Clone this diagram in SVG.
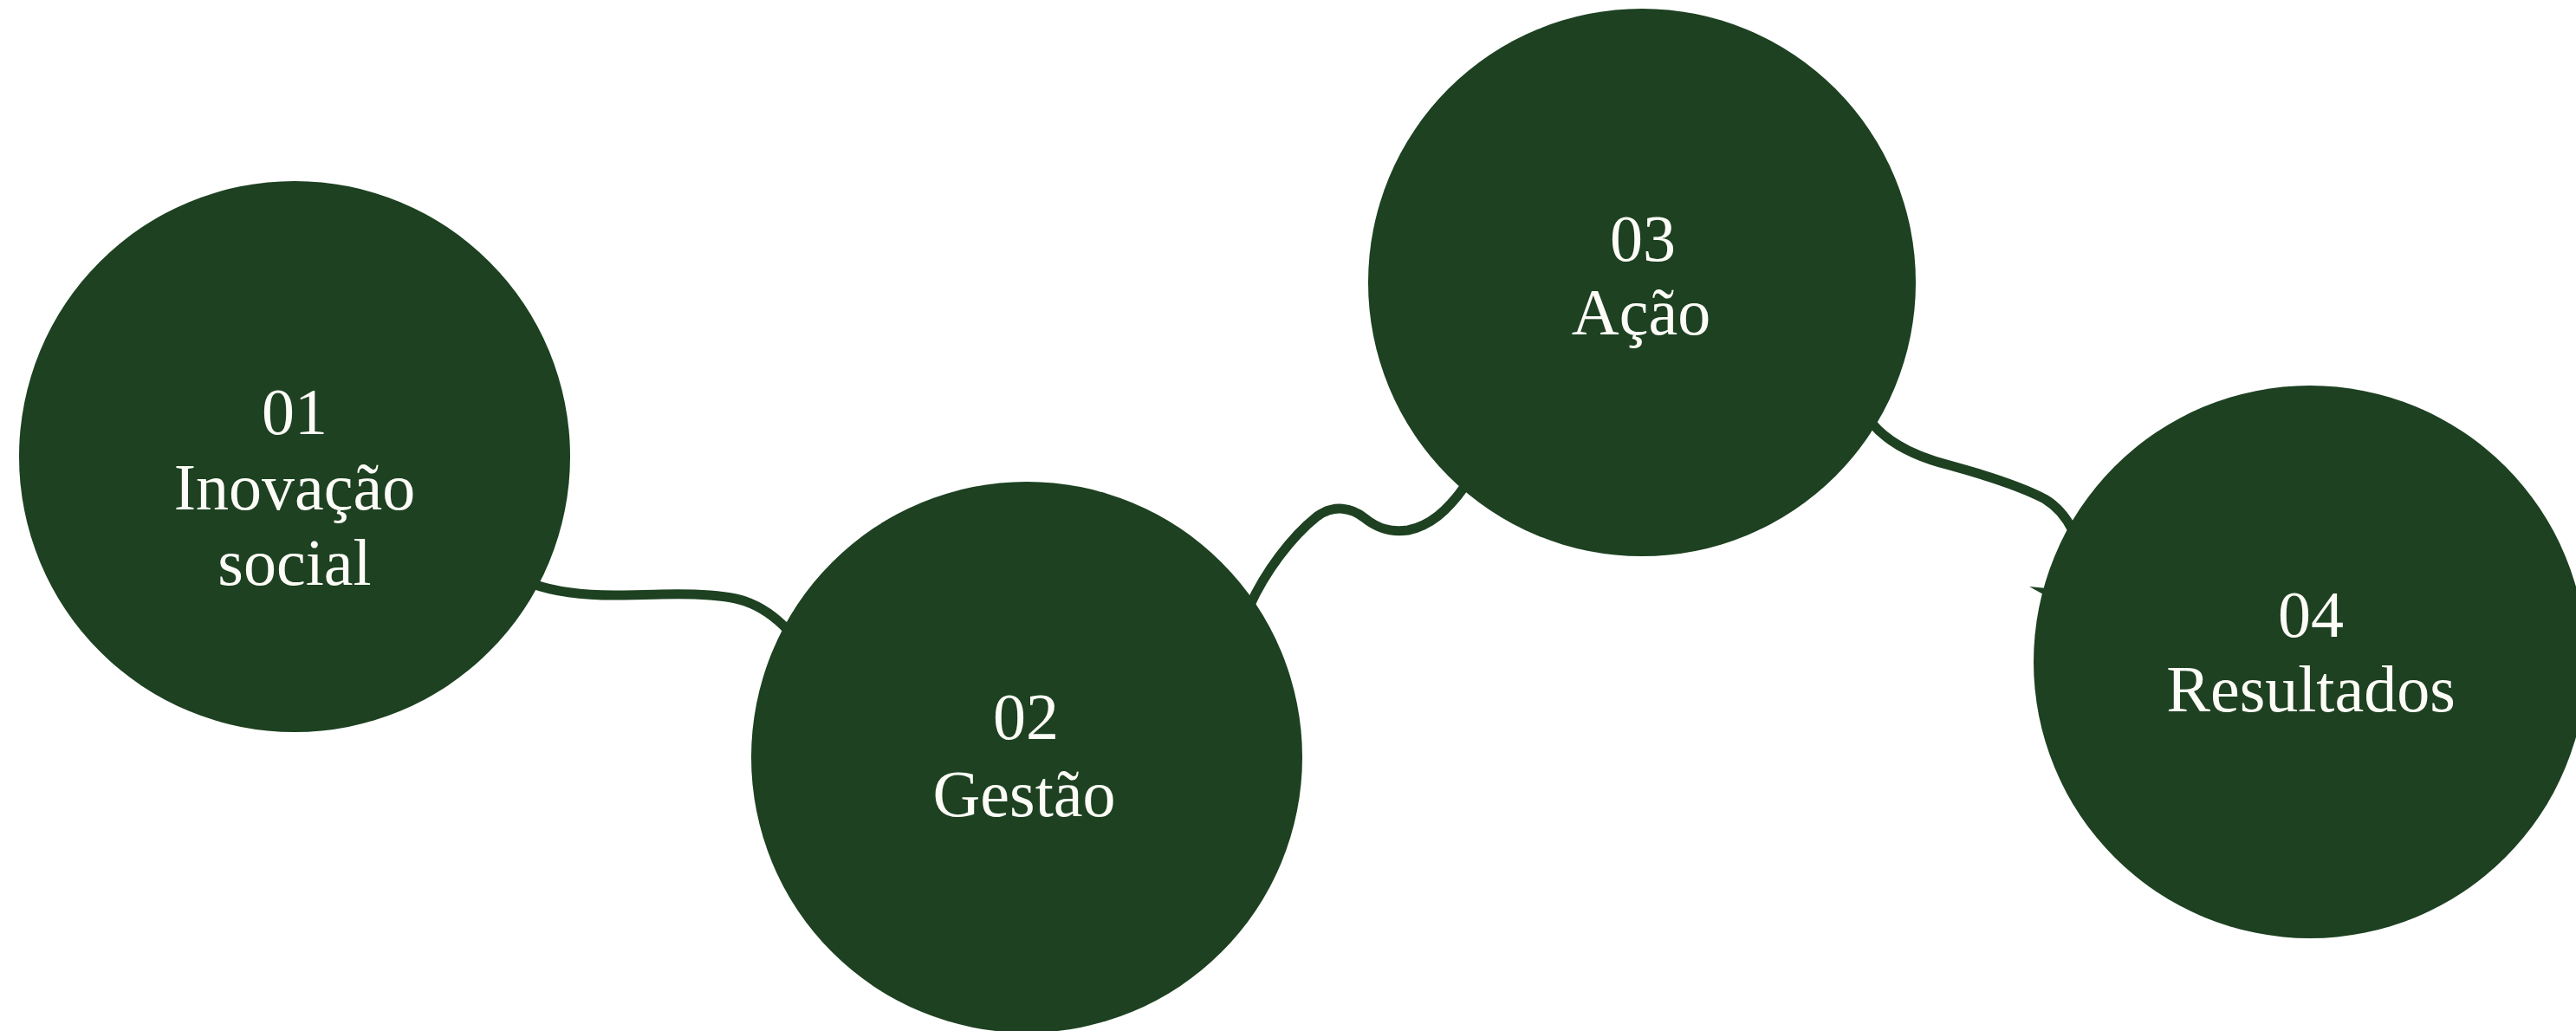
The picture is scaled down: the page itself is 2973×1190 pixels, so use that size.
<svg xmlns="http://www.w3.org/2000/svg" width="2973" height="1190" viewBox="0 0 2973 1190">
  <style>
    .bg { fill: #ffffff; }
    .node { fill: #1d4121; }
    .conn { fill: none; stroke: #1d4121; stroke-width: 11; stroke-linecap: round; stroke-linejoin: round; }
    .tip { fill: #1d4121; }
    .label { fill: #fdfcf7; font-family: "Liberation Serif", "DejaVu Serif", serif; font-size: 76px; text-anchor: middle; }
  </style>
  <rect class="bg" x="0" y="0" width="2973" height="1190"/>
  <g id="connectors">
    <path class="conn" d="M615,674 C640,683 670,688 720,687 C780,685 830,684 860,694 C880,701 895,712 910,728"/>
    <path class="conn" d="M1442,700 C1460,660 1490,620 1520,596 C1540,582 1560,586 1575,598 C1590,610 1605,615 1625,612 C1650,607 1670,590 1690,562"/>
    <path class="conn" d="M2160,488 C2180,512 2210,527 2250,537 C2290,548 2330,560 2360,576 C2375,585 2385,598 2392,612"/>
    <polygon class="tip" points="2342,677 2362,679 2360,687"/>
  </g>
  <g id="node-01">
    <circle class="node" cx="340" cy="527" r="318"/>
    <text class="label" x="340" y="501">01</text>
    <text class="label" x="340" y="588">Inovação</text>
    <text class="label" x="340" y="675">social</text>
  </g>
  <g id="node-02">
    <circle class="node" cx="1185" cy="874" r="318"/>
    <text class="label" x="1184" y="853">02</text>
    <text class="label" x="1182" y="942">Gestão</text>
  </g>
  <g id="node-03">
    <circle class="node" cx="1895" cy="326" r="316"/>
    <text class="label" x="1896" y="301">03</text>
    <text class="label" x="1894" y="386">Ação</text>
  </g>
  <g id="node-04">
    <circle class="node" cx="2666" cy="764" r="319"/>
    <text class="label" x="2667" y="735">04</text>
    <text class="label" x="2667" y="821">Resultados</text>
  </g>
</svg>
